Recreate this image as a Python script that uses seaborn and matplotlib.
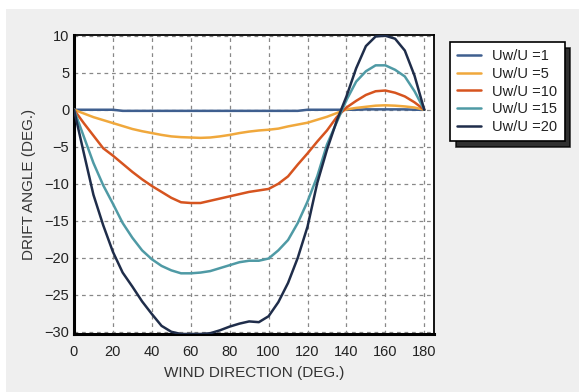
import numpy as np
import pandas as pd
import seaborn as sns
import matplotlib.pyplot as plt
from matplotlib.patches import Rectangle
from matplotlib.ticker import MultipleLocator

# ---------------------------------------------------------------------------
# data (drift angle vs wind direction, 5 deg steps)
# ---------------------------------------------------------------------------
wind_dir = list(range(0, 181, 5))

uw_1 = [0, 0, 0, 0, 0, -0.15, -0.15, -0.15, -0.15, -0.15, -0.15, -0.15, -0.15,
        -0.15, -0.15, -0.15, -0.15, -0.15, -0.15, -0.15, -0.15, -0.15, -0.15,
        -0.15, 0, 0, 0, 0, 0, 0, 0.05, 0.05, 0.05, 0.05, 0.05, 0, 0]
uw_5 = [0, -0.5, -1.0, -1.4, -1.8, -2.2, -2.6, -2.9, -3.15, -3.4, -3.6, -3.7,
        -3.75, -3.8, -3.75, -3.6, -3.4, -3.15, -2.95, -2.8, -2.7, -2.55, -2.25,
        -2.0, -1.75, -1.35, -0.95, -0.45, 0.05, 0.25, 0.4, 0.55, 0.6, 0.55,
        0.45, 0.3, 0]
uw_10 = [0, -1.8, -3.5, -5.2, -6.2, -7.3, -8.4, -9.4, -10.3, -11.1, -11.9,
         -12.5, -12.6, -12.6, -12.3, -12.0, -11.7, -11.4, -11.1, -10.9, -10.7,
         -10.0, -9.0, -7.4, -5.9, -4.3, -2.8, -1.0, 0.3, 1.2, 2.0, 2.5, 2.6,
         2.3, 1.8, 1.0, 0]
uw_15 = [0, -3.6, -7.2, -10.2, -12.7, -15.3, -17.3, -19.0, -20.2, -21.1, -21.7,
         -22.1, -22.1, -22.0, -21.8, -21.4, -21.0, -20.6, -20.4, -20.4, -20.1,
         -19.0, -17.6, -15.3, -12.4, -9.0, -4.7, -1.7, 1.3, 3.8, 5.2, 6.0, 6.0,
         5.4, 4.5, 2.5, 0]
uw_20 = [0, -5.8, -11.5, -15.6, -19.2, -22.0, -23.9, -25.9, -27.6, -29.2, -30.0,
         -30.3, -30.3, -30.3, -30.2, -29.8, -29.3, -28.9, -28.6, -28.7, -27.9,
         -26.0, -23.4, -20.0, -15.8, -9.9, -5.4, -1.5, 1.8, 5.6, 8.6, 9.9, 10.0,
         9.6, 8.0, 4.6, 0]

labels = ['Uw/U =1', 'Uw/U =5', 'Uw/U =10', 'Uw/U =15', 'Uw/U =20']
colors = ['#3f5f8f', '#f0a83c', '#d6541f', '#4f9aa5', '#1f2d4a']

df = pd.concat([
    pd.DataFrame({'wind': wind_dir, 'drift': vals, 'case': lab})
    for vals, lab in zip([uw_1, uw_5, uw_10, uw_15, uw_20], labels)
])

# ---------------------------------------------------------------------------
# plot
# ---------------------------------------------------------------------------
sns.set_style('white')
plt.rcParams['font.family'] = ['Liberation Sans', 'DejaVu Sans']

fig = plt.figure(figsize=(5.79, 3.92), dpi=100, facecolor='white')
# grey panel behind everything (white strip at top and left, like the source)
fig.patches.append(Rectangle((6 / 579, 0), 1, 1 - 9 / 392, transform=fig.transFigure,
                             facecolor='#efefef', edgecolor='none', zorder=-10))

ax = fig.add_axes([74 / 579, 1 - 334 / 392, 360 / 579, 299 / 392])
ax.set_facecolor('white')

sns.lineplot(data=df, x='wind', y='drift', hue='case', palette=colors,
             linewidth=1.8, ax=ax, sort=False, zorder=3)

ax.set_xlim(0, 185)
ax.set_ylim(-30.3, 10.1)
ax.set_xticks(range(0, 181, 20))
ax.set_yticks(range(-30, 11, 5))
ax.xaxis.set_minor_locator(MultipleLocator(5))
ax.tick_params(axis='both', which='major', direction='in', length=4,
               labelsize=10.5, labelcolor='#222222', color='#444444')
ax.tick_params(axis='x', which='minor', direction='in', length=2, color='#444444')
ax.tick_params(axis='x', pad=8)

ax.grid(True, which='major', linestyle=(0, (3, 3)), color='#888888', linewidth=0.9)

for side in ['left', 'bottom']:
    ax.spines[side].set_linewidth(2.2)
    ax.spines[side].set_color('black')
for side in ['top', 'right']:
    ax.spines[side].set_linewidth(1.3)
    ax.spines[side].set_color('black')

ax.set_xlabel('WIND DIRECTION (DEG.)', fontsize=11, color='#333333', labelpad=5)
ax.set_ylabel('DRIFT ANGLE (DEG.)', fontsize=11, color='#333333', labelpad=6)

handles, _ = ax.get_legend_handles_labels()
leg = ax.legend(handles, labels, loc='upper left', bbox_to_anchor=(450 / 579, 1 - 42 / 392),
                bbox_transform=fig.transFigure, borderaxespad=0, fontsize=10.5,
                frameon=True, fancybox=False,
                shadow={'color': 'black', 'alpha': 0.8, 'ox': 4, 'oy': -4},
                edgecolor='black', framealpha=1, handlelength=1.6, borderpad=0.5,
                labelspacing=0.25, handletextpad=0.8)
leg.get_frame().set_linewidth(1.2)
for t in leg.get_texts():
    t.set_color('#222222')

fig.savefig('out.png', dpi=100, facecolor=fig.get_facecolor())
